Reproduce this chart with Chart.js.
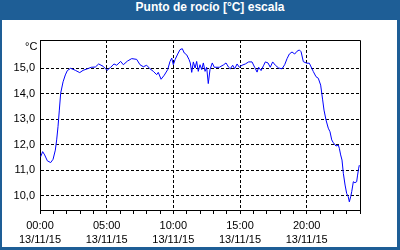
<!DOCTYPE html>
<html lang="es">
<head>
  <meta charset="UTF-8">
  <title>Punto de rocío</title>
  <script src="https://cdn.jsdelivr.net/npm/chart.js"></script>
  <style>
    body { margin: 0; }
    #frame { position: relative; width: 400px; height: 250px; background: #1e5e96; overflow: hidden; }
    #title { position: absolute; left: 0; top: 0; width: 380px; height: 20px; padding-left: 20px;
             line-height: 20px; text-align: center; color: #fff; font: bold 12px "Liberation Sans", sans-serif; }
    #panel { position: absolute; left: 2px; top: 20px; width: 395px; height: 227px; background: #fff; }
    #unit { position: absolute; left: 25px; top: 40px; font: 11px "Liberation Sans", sans-serif; color: #000; }
    canvas { position: absolute; left: 0; top: 0; }
  </style>
</head>
<body>
  <div id="frame">
    <div id="title">Punto de rocío [°C] escala</div>
    <div id="panel"></div>
    <canvas id="chart" width="400" height="250"></canvas>
    <div id="unit">°C</div>
  </div>

  <script>
    // hours since 00:00 on 13/11/15
    const hours = [
      0.05, 0.20, 0.35, 0.55, 0.80, 0.98, 1.15, 1.25, 1.35, 1.45, 1.55, 1.73, 1.90, 2.05, 2.30,
      2.65, 2.98, 3.23, 3.55, 3.85, 4.15, 4.40, 4.73, 5.03, 5.30, 5.55, 5.75, 6.05, 6.25, 6.55,
      6.88, 7.25, 7.50, 7.75, 8.00, 8.25, 8.50, 8.75, 8.87, 9.08, 9.32, 9.58, 9.75, 9.88, 10.00,
      10.13, 10.33, 10.50, 10.67, 10.82, 11.00, 11.18, 11.27, 11.38, 11.50, 11.63, 11.75, 11.87, 12.00, 12.13,
      12.25, 12.38, 12.50, 12.62, 12.75, 12.92, 13.07, 13.45, 13.78, 13.95, 14.15, 14.27, 14.45, 14.60, 14.78,
      14.95, 15.15, 15.40, 15.65, 15.90, 16.10, 16.28, 16.40, 16.58, 16.78, 16.90, 17.10, 17.27, 17.45, 17.65,
      17.90, 18.15, 18.35, 18.53, 18.70, 18.90, 19.10, 19.28, 19.45, 19.58, 19.75, 20.00, 20.20, 20.30, 20.50,
      20.70, 20.87, 21.05, 21.20, 21.30, 21.45, 21.62, 21.75, 21.88, 22.00, 22.20, 22.37, 22.45, 22.55, 22.65,
      22.75, 22.88, 23.00, 23.12, 23.20, 23.30, 23.38, 23.50, 23.62, 23.75, 23.82, 23.90, 23.95
    ];
    const dewPoint = [
      11.53, 11.73, 11.60, 11.37, 11.30, 11.43, 11.79, 12.19, 12.71, 13.36, 14.02, 14.47, 14.74, 14.91, 15.00,
      14.92, 14.83, 14.92, 14.98, 15.04, 15.05, 15.17, 15.08, 14.92, 15.04, 15.17, 15.12, 15.27, 15.14, 15.28,
      15.38, 15.35, 15.14, 15.06, 15.12, 14.98, 14.88, 14.75, 14.84, 14.57, 14.73, 14.95, 15.27, 15.40, 15.14,
      15.34, 15.56, 15.73, 15.77, 15.60, 15.53, 15.34, 15.21, 14.84, 15.25, 15.01, 15.27, 14.88, 15.14, 14.95,
      15.21, 14.88, 15.04, 14.40, 14.95, 15.21, 15.04, 15.04, 15.14, 15.21, 15.04, 14.98, 15.12, 14.98, 15.17,
      15.04, 15.12, 15.17, 15.25, 15.25, 15.04, 14.85, 15.04, 14.91, 15.12, 15.25, 15.21, 15.04, 15.25, 15.12,
      15.01, 14.98, 15.14, 15.38, 15.56, 15.64, 15.56, 15.67, 15.72, 15.65, 15.26, 15.20, 15.20, 15.09, 14.87,
      14.67, 14.61, 14.34, 13.76, 13.36, 12.97, 12.65, 12.51, 12.19, 12.08, 11.95, 11.99, 11.86, 11.60, 11.40,
      10.88, 10.42, 10.09, 9.96, 9.76, 9.96, 10.16, 10.55, 10.51, 10.55, 10.81, 11.08, 11.20
    ];
    const timeLabels = ['00:00', '05:00', '10:00', '15:00', '20:00'];
    const dateLabel = '13/11/15';
    const yTicks = [10, 11, 12, 13, 14, 15];

    const font = { family: 'Liberation Sans', size: 11, lineHeight: 1.3 };

    const frameBox = {
      id: 'frameBox',
      afterDraw(chart) {
        const { ctx, chartArea: a } = chart;
        ctx.save();
        ctx.strokeStyle = '#000';
        ctx.lineWidth = 1;
        ctx.beginPath();
        ctx.moveTo(a.left, a.top + 0.5);
        ctx.lineTo(a.right + 0.5, a.top + 0.5);
        ctx.lineTo(a.right + 0.5, a.bottom);
        ctx.stroke();
        ctx.restore();
      }
    };

    new Chart(document.getElementById('chart'), {
      type: 'line',
      data: {
        datasets: [{
          data: hours.map((h, i) => ({ x: h, y: dewPoint[i] })),
          borderColor: '#0000ff',
          borderWidth: 1,
          pointRadius: 0,
          tension: 0,
          fill: false
        }]
      },
      options: {
        responsive: false,
        animation: false,
        layout: { padding: { top: 40, right: 40, left: 0, bottom: 0 } },
        plugins: { legend: { display: false }, tooltip: { enabled: false } },
        scales: {
          x: {
            type: 'linear',
            min: 0,
            max: 24,
            afterBuildTicks: s => {
              const t = [];
              for (let h = 0; h <= 24; h++) t.push({ value: h });
              s.ticks = t;
            },
            afterFit: s => { s.height = 40; },
            ticks: {
              autoSkip: false,
              maxRotation: 0,
              padding: 5,
              color: '#000',
              font: font,
              callback: v => (v % 5 === 0 && v < 24) ? [timeLabels[v / 5], dateLabel] : ''
            },
            grid: {
              color: c => (c.tick && c.tick.value % 5 === 0 && c.tick.value > 0 && c.tick.value < 24) ? '#000' : 'rgba(0,0,0,0)',
              tickColor: '#000',
              tickLength: 4
            },
            border: { color: '#000', width: 1, dash: [3, 2] }
          },
          y: {
            min: 9.44,
            max: 16.11,
            afterBuildTicks: s => { s.ticks = yTicks.map(v => ({ value: v })); },
            afterFit: s => { s.width = 40; },
            ticks: {
              padding: 5,
              color: '#000',
              font: font,
              callback: v => v.toFixed(1).replace('.', ',')
            },
            grid: { color: '#000', drawTicks: false },
            border: { color: '#000', width: 1, dash: [3, 2] }
          }
        }
      },
      plugins: [frameBox]
    });
  </script>
</body>
</html>
